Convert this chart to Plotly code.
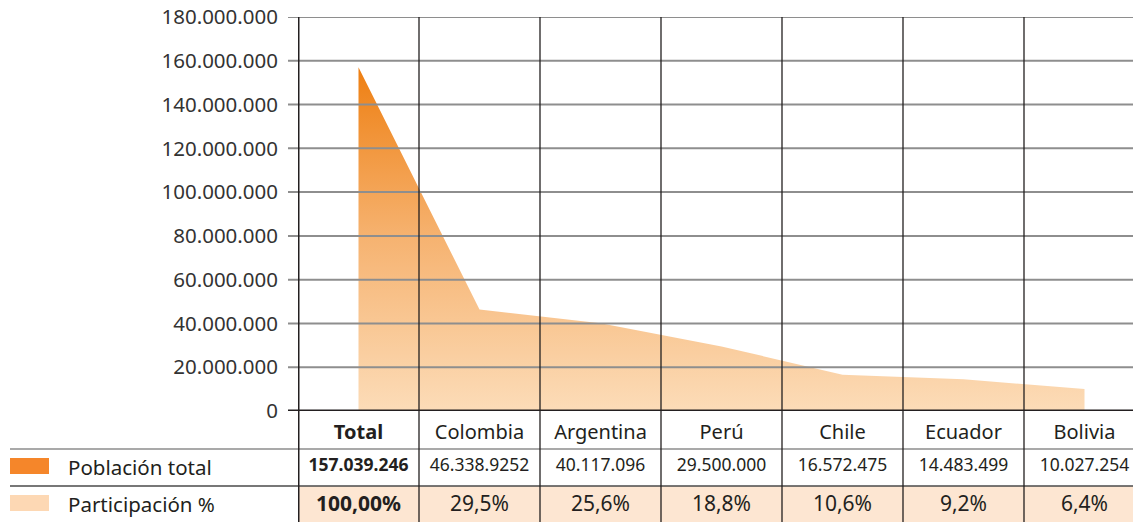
import plotly.graph_objects as go

categories = ["Total", "Colombia", "Argentina", "Perú", "Chile", "Ecuador", "Bolivia"]
population = [157039246, 46338925, 40117096, 29500000, 16572475, 14483499, 10027254]
population_labels = ["157.039.246", "46.338.9252", "40.117.096", "29.500.000",
                     "16.572.475", "14.483.499", "10.027.254"]
share_labels = ["100,00%", "29,5%", "25,6%", "18,8%", "10,6%", "9,2%", "6,4%"]
y_ticks = [0, 20e6, 40e6, 60e6, 80e6, 100e6, 120e6, 140e6, 160e6, 180e6]
y_ticktext = ["0", "20.000.000", "40.000.000", "60.000.000", "80.000.000", "100.000.000",
              "120.000.000", "140.000.000", "160.000.000", "180.000.000"]
row_names = ["Población total", "Participación %"]

FONT = "Noto Sans"
TXT = "#231F20"
W, H = 1133, 522
L, T = 298, 17
plot_w = W - L
split = 111 / (H - T)

def px(xpix):
    return (xpix - L) / plot_w

fig = go.Figure()

fig.add_trace(go.Scatter(
    x=categories, y=population, mode="none", fill="tozeroy",
    fillgradient=dict(type="vertical",
                      colorscale=[[0, "#FCDCB8"], [0.5, "#F6B371"], [1, "#EE7F12"]],
                      start=0, stop=max(population)),
    hoverinfo="skip", showlegend=False, xaxis="x", yaxis="y"))

def bold(i, s):
    return f"<b>{s}</b>" if i == 0 else s

fig.add_trace(go.Scatter(
    x=categories, y=[88] * len(categories), mode="text",
    text=[bold(i, c) for i, c in enumerate(categories)],
    textfont=dict(family=FONT, size=20, color=TXT),
    showlegend=False, hoverinfo="skip", cliponaxis=False, xaxis="x2", yaxis="y2"))
fig.add_trace(go.Scatter(
    x=categories, y=[55] * len(categories), mode="text",
    text=[bold(i, c) for i, c in enumerate(population_labels)],
    textfont=dict(family=FONT, size=17.5, color=TXT),
    showlegend=False, hoverinfo="skip", cliponaxis=False, xaxis="x2", yaxis="y2"))
fig.add_trace(go.Scatter(
    x=categories, y=[16] * len(categories), mode="text",
    text=[bold(i, c) for i, c in enumerate(share_labels)],
    textfont=dict(family=FONT, size=21, color=TXT),
    showlegend=False, hoverinfo="skip", cliponaxis=False, xaxis="x2", yaxis="y2"))

shapes = []
shapes.append(dict(type="rect", xref="paper", yref="y2", x0=0, x1=1, y0=0, y1=36,
                   fillcolor="#FDE6D2", line=dict(width=0), layer="below"))
shapes.append(dict(type="line", xref="paper", yref="y2", x0=px(10), x1=1, y0=73, y1=73,
                   line=dict(color="#8C8C8C", width=1.5), layer="above"))
shapes.append(dict(type="line", xref="paper", yref="y2", x0=px(10), x1=1, y0=36, y1=36,
                   line=dict(color="#4A4A4A", width=1.5), layer="above"))
for v in y_ticks[1:]:
    shapes.append(dict(type="line", xref="paper", yref="y", x0=px(288), x1=1, y0=v, y1=v,
                       line=dict(color="#8E8E8E", width=2), layer="above"))
for i in range(1, len(categories)):
    shapes.append(dict(type="line", xref="x", yref="paper", x0=i - 0.5, x1=i - 0.5, y0=0, y1=1,
                       line=dict(color="#231F20", width=1.3), layer="above"))
shapes.append(dict(type="line", xref="x", yref="paper", x0=-0.5, x1=-0.5, y0=0, y1=1,
                   line=dict(color="#231F20", width=3), layer="above"))
shapes.append(dict(type="line", xref="paper", yref="y", x0=px(288), x1=1, y0=0, y1=0,
                   line=dict(color="#231F20", width=3), layer="above"))
shapes.append(dict(type="rect", xref="paper", yref="y2", x0=px(10), x1=px(49), y0=48, y1=64,
                   fillcolor="#F5862A", line=dict(width=0)))
shapes.append(dict(type="rect", xref="paper", yref="y2", x0=px(10), x1=px(49), y0=11, y1=27,
                   fillcolor="#FDD8B4", line=dict(width=0)))

annotations = []
for name, yy in zip(row_names, [55, 18]):
    annotations.append(dict(text=name, xref="paper", yref="y2", x=px(66), y=yy,
                            xanchor="left", yanchor="middle", showarrow=False,
                            font=dict(family=FONT, size=20.5, color=TXT)))

fig.update_layout(
    template="none",
    width=W, height=H, autosize=False,
    margin=dict(l=L, r=0, t=T, b=0, pad=0, autoexpand=False),
    paper_bgcolor="white", plot_bgcolor="white",
    shapes=shapes, annotations=annotations, showlegend=False,
    xaxis=dict(domain=[0, 1], range=[-0.5, -0.5 + plot_w / 121], anchor="y",
               showgrid=False, zeroline=False, showticklabels=False, ticks="",
               showline=False, automargin=False,
               type="category", categoryorder="array", categoryarray=categories),
    yaxis=dict(domain=[split, 1], range=[0, 180e6], anchor="x",
               tickvals=y_ticks, ticktext=y_ticktext, showgrid=False, zeroline=False,
               ticks="", ticklabelstandoff=19, automargin=False,
               tickfont=dict(family=FONT, size=20.5, color="#333333"), showline=False),
    xaxis2=dict(domain=[0, 1], matches="x", anchor="y2", visible=False, automargin=False,
                type="category", categoryorder="array", categoryarray=categories),
    yaxis2=dict(domain=[0, split], range=[0, 111], anchor="x2", visible=False,
                automargin=False),
)

fig.write_html("out.html")
